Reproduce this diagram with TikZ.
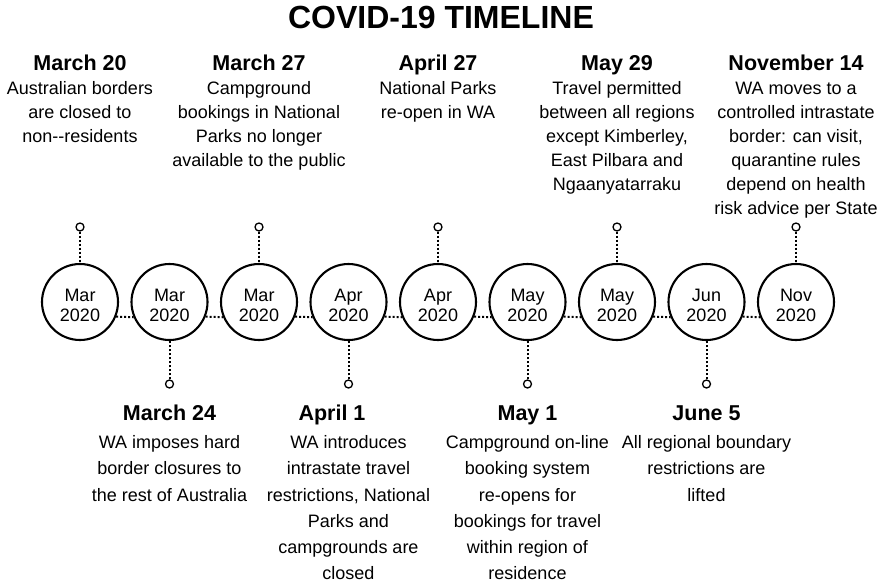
\documentclass[tikz,border=0pt]{standalone}
\usepackage{fontspec}
\setmainfont{Liberation Sans}
\begin{document}
\begin{tikzpicture}[x=1pt,y=-1pt,
  datecirc/.style={circle, draw, line width=2.1pt, minimum size=76pt, inner sep=0pt, align=center, font=\fontsize{18}{20}\selectfont},
  pinc/.style={circle, draw, line width=1.3pt, minimum size=8pt, inner sep=0pt},
  dotline/.style={line width=2pt, dash pattern=on 2pt off 2pt},
  titlestyle/.style={font=\bfseries\fontsize{32}{34}\selectfont, anchor=base, inner sep=0pt},
  hdr/.style={font=\bfseries\fontsize{21.5}{24}\selectfont, anchor=base, inner sep=0pt},
  topbody/.style={font=\fontsize{18}{24}\selectfont, align=center, anchor=north, inner sep=0pt},
  botbody/.style={font=\fontsize{18}{26.3}\selectfont, align=center, anchor=north, inner sep=0pt}]
\useasboundingbox (0,0) rectangle (881,587);

\node[titlestyle] (title) at (441,28.8) {COVID-19 TIMELINE};

% date circles
\node[datecirc] (c1) at (80,302)    {\rule{0pt}{19pt}Mar\\2020};
\node[datecirc] (c2) at (169.5,302) {\rule{0pt}{19pt}Mar\\2020};
\node[datecirc] (c3) at (259,302)   {\rule{0pt}{19pt}Mar\\2020};
\node[datecirc] (c4) at (348.5,302) {\rule{0pt}{19pt}Apr\\2020};
\node[datecirc] (c5) at (438,302)   {\rule{0pt}{19pt}Apr\\2020};
\node[datecirc] (c6) at (527.5,302) {\rule{0pt}{19pt}May\\2020};
\node[datecirc] (c7) at (617,302)   {\rule{0pt}{19pt}May\\2020};
\node[datecirc] (c8) at (706.5,302) {\rule{0pt}{19pt}Jun\\2020};
\node[datecirc] (c9) at (796,302)   {\rule{0pt}{19pt}Nov\\2020};

% links between circles
\foreach \a/\b in {c1/c2,c2/c3,c3/c4,c4/c5,c5/c6,c6/c7,c7/c8,c8/c9}
  \draw[dotline] (\a.-22.6) -- (\b.-157.4);

% pins
\node[pinc] (p1) at (80,227) {};
\node[pinc] (p3) at (259,227) {};
\node[pinc] (p5) at (438,227) {};
\node[pinc] (p7) at (617,227) {};
\node[pinc] (p9) at (796,227) {};
\node[pinc] (p2) at (169.5,384) {};
\node[pinc] (p4) at (348.5,384) {};
\node[pinc] (p6) at (527.5,384) {};
\node[pinc] (p8) at (706.5,384) {};
\foreach \i in {1,...,9}
  \draw[dotline] (p\i) -- (c\i);

% top labels
\node[hdr] (h1) at (80,70.5) {March 20};
\node[topbody] (t1) at (80,77.7) {\strut Australian borders\\are closed to\\non-{}-residents};
\node[hdr] (h3) at (259,70.5) {March 27};
\node[topbody] (t3) at (259,77.7) {\strut Campground\\bookings in National\\Parks no longer\\available to the public};
\node[hdr] (h5) at (438,70.5) {April 27};
\node[topbody] (t5) at (438,77.7) {\strut National Parks\\re-open in WA};
\node[hdr] (h7) at (617,70.5) {May 29};
\node[topbody] (t7) at (617,77.7) {\strut Travel permitted\\between all regions\\except Kimberley,\\East Pilbara and\\Ngaanyatarraku};
\node[hdr] (h9) at (796,70.5) {November 14};
\node[topbody] (t9) at (796,77.7) {\strut WA moves to a\\controlled intrastate\\border: can visit,\\quarantine rules\\depend on health\\risk advice per State};

% bottom labels
\node[hdr] (h2) at (169.5,420.5) {March 24};
\node[botbody] (t2) at (169.5,429.8) {\strut WA imposes hard\\border closures to\\the rest of Australia};
\node[hdr] (h4) at (332,420.5) {April 1};
\node[botbody] (t4) at (348.5,429.8) {\strut WA introduces\\intrastate travel\\restrictions, National\\Parks and\\campgrounds are\\closed};
\node[hdr] (h6) at (527.5,420.5) {May 1};
\node[botbody] (t6) at (527.5,429.8) {\strut Campground on-line\\booking system\\re-opens for\\bookings for travel\\within region of\\residence};
\node[hdr] (h8) at (706.5,420.5) {June 5};
\node[botbody] (t8) at (706.5,429.8) {\strut All regional boundary\\restrictions are\\lifted};
\end{tikzpicture}
\end{document}
